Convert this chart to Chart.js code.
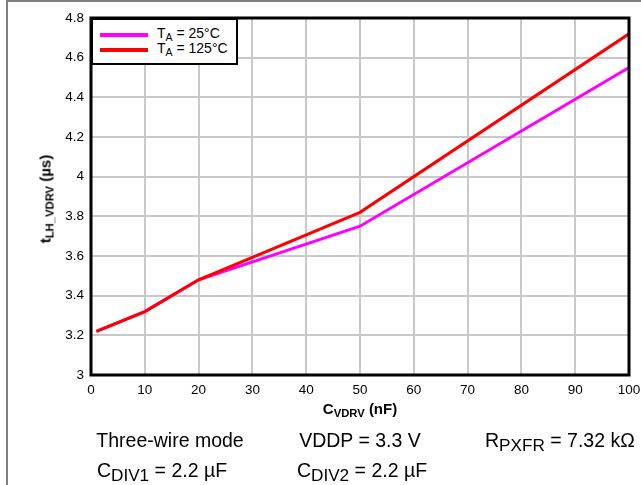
<!DOCTYPE html>
<html>
<head>
<meta charset="utf-8">
<script src="https://cdn.jsdelivr.net/npm/chart.js@4"></script>
<style>
  body { margin: 0; background: #fff; }
  #wrap { position: relative; width: 641px; height: 485px; overflow: hidden; font-family: "Liberation Sans", Arial, sans-serif; }
  #frame { position: absolute; left: 6px; top: 0; width: 700px; height: 600px; border-left: 2px solid #808080; border-top: 2px solid #808080; }
  canvas { position: absolute; left: 0; top: 0; }
  .lbl { position: absolute; white-space: nowrap; color: #000; }
  sub { font-size: 75%; vertical-align: -0.3em; line-height: 0; }
  .note sub { font-size: 88%; vertical-align: -0.25em; }
  #legend { position: absolute; left: 91px; top: 18px; width: 143px; height: 43px; border: 2px solid #000; background: #fff; font-size: 14px; }
  .row { position: absolute; left: 7px; height: 14px; }
  .swatch { position: absolute; left: 0; top: 5px; width: 48px; height: 4px; }
  .row span.t { position: absolute; left: 57px; top: -3px; white-space: nowrap; }
  .note { font-size: 19.5px; }
</style>
</head>
<body>
<div id="wrap">
  <div id="frame"></div>
  <canvas id="myChart" width="641" height="485"></canvas>
  <div id="legend">
    <div class="row" style="top:8px"><div class="swatch" style="background:#ff00ff"></div><span class="t">T<sub>A</sub> = 25°C</span></div>
    <div class="row" style="top:23px"><div class="swatch" style="background:#ff0000"></div><span class="t">T<sub>A</sub> = 125°C</span></div>
  </div>
  <div class="lbl" id="ytitle" style="left:45px; top:199px; font-weight:bold; font-size:15px; transform: translate(-50%,-50%) rotate(-90deg);">t<sub>LH_VDRV</sub> (µs)</div>
  <div class="lbl" style="left:360px; top:408px; font-weight:bold; font-size:15px; transform: translate(-50%,-50%);">C<sub>VDRV</sub> (nF)</div>
  <div class="lbl note" style="left:170px; top:440px; transform: translate(-50%,-50%);">Three-wire mode</div>
  <div class="lbl note" style="left:360px; top:440px; transform: translate(-50%,-50%);">VDDP = 3.3 V</div>
  <div class="lbl note" style="left:485px; top:440px; transform: translate(0,-50%);">R<sub>PXFR</sub> = 7.32 kΩ</div>
  <div class="lbl note" style="left:162px; top:470px; transform: translate(-50%,-50%);">C<sub>DIV1</sub> = 2.2 µF</div>
  <div class="lbl note" style="left:362px; top:470px; transform: translate(-50%,-50%);">C<sub>DIV2</sub> = 2.2 µF</div>
</div>
<script>
// capacitance on VDRV (nF)
var capNF = [1, 10, 20, 50, 100];
// rise time tLH_VDRV (us)
var t25 = [3.22, 3.32, 3.48, 3.75, 4.55];
var t125 = [3.22, 3.32, 3.48, 3.82, 4.72];
var xTicks = [0, 10, 20, 30, 40, 50, 60, 70, 80, 90, 100];
var yTicks = [3, 3.2, 3.4, 3.6, 3.8, 4, 4.2, 4.4, 4.6, 4.8];

function pts(ys){
    var out = [];
    for(var i = 0; i < capNF.length; i++){
        out.push({x: capNF[i], y: ys[i]});
    }
    return out;
}

var framePlugin = {
    id: 'frame',
    afterDraw: function(chart){
        var a = chart.chartArea;
        var ctx = chart.ctx;
        ctx.save();
        ctx.strokeStyle = '#000';
        ctx.lineWidth = 3;
        ctx.strokeRect(a.left, a.top, a.right - a.left, a.bottom - a.top);
        ctx.restore();
    }
};

var tickFont = {family: '"Liberation Sans", Arial, sans-serif', size: 13.5};

new Chart("myChart", {
    type: "line",
    data: {
        datasets: [{
            label: "TA = 125°C",
            data: pts(t125),
            borderColor: "#ff0000",
            borderWidth: 3,
            pointRadius: 0,
            fill: false,
            order: 0
        }, {
            label: "TA = 25°C",
            data: pts(t25),
            borderColor: "#ff00ff",
            borderWidth: 3,
            pointRadius: 0,
            fill: false,
            order: 1
        }]
    },
    options: {
        responsive: false,
        animation: false,
        layout: {padding: {left: 0, top: 18, right: 12, bottom: 80}},
        plugins: {legend: {display: false}, tooltip: {enabled: false}},
        scales: {
            x: {
                type: 'linear', min: 0, max: 100,
                afterBuildTicks: function(s){ s.ticks = xTicks.map(function(v){ return {value: v}; }); },
                afterFit: function(s){ s.height = 30; s.paddingLeft = 0; s.paddingRight = 0; },
                grid: {color: '#c8c8c8', lineWidth: 2, drawTicks: false},
                border: {display: false},
                ticks: {color: '#000', font: tickFont, padding: 7, maxRotation: 0}
            },
            y: {
                min: 3, max: 4.8,
                afterBuildTicks: function(s){ s.ticks = yTicks.map(function(v){ return {value: v}; }); },
                afterFit: function(s){ s.width = 91; s.paddingTop = 0; s.paddingBottom = 0; },
                grid: {color: '#c8c8c8', lineWidth: 2, drawTicks: false},
                border: {display: false},
                ticks: {color: '#000', font: tickFont, padding: 7,
                    callback: function(v){ return String(+v.toFixed(1)); }}
            }
        }
    },
    plugins: [framePlugin]
});
</script>
</body>
</html>
